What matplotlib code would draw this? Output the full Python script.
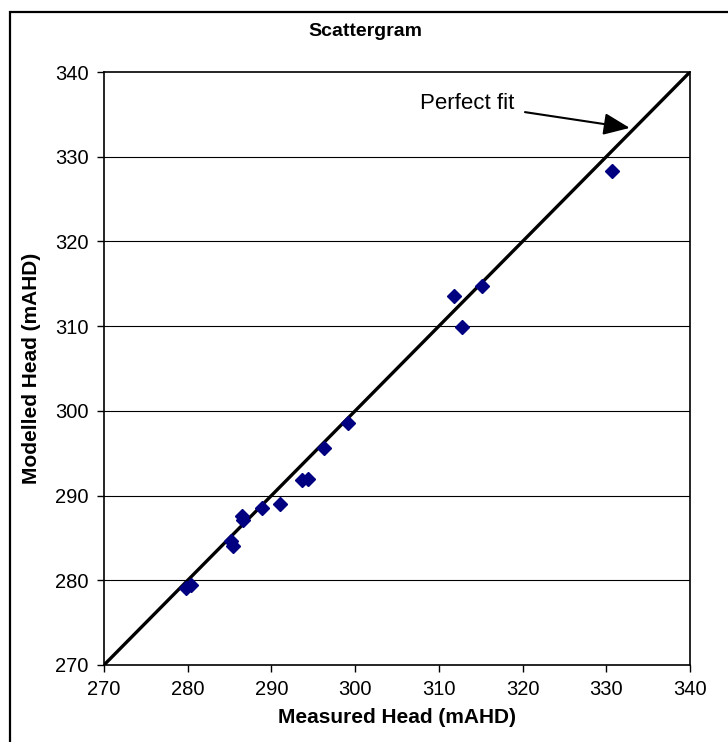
import matplotlib
matplotlib.use("Agg")
import matplotlib.pyplot as plt
from matplotlib.patches import Rectangle

plt.rcParams["font.family"] = ["Liberation Sans", "DejaVu Sans"]

# measured vs modelled heads (mAHD)
measured = [279.8, 280.4, 285.2, 285.4, 286.5, 286.6, 288.9, 291.0,
            293.6, 294.4, 296.3, 299.2, 311.8, 315.2, 312.8, 330.7]
modelled = [279.1, 279.5, 284.6, 284.0, 287.6, 287.1, 288.5, 289.0,
            291.8, 292.0, 295.6, 298.6, 313.5, 314.7, 309.9, 328.3]
lims = [270, 340]
ticks = list(range(270, 341, 10))

fig = plt.figure(figsize=(7.28, 7.42), dpi=100)
ax = fig.add_axes([104 / 728, 1 - 665 / 742, 586 / 728, 593 / 742])

# outer chart frame (cut off at right and bottom like the reference)
fig.patches.append(Rectangle((10 / 728, -0.1), 1.2, 1 - 12 / 742 + 0.1,
                             transform=fig.transFigure, fill=False,
                             edgecolor="black", lw=1.6))

for t in ticks[1:-1]:
    ax.axhline(t, color="black", lw=0.8, zorder=1)

ax.plot(lims, lims, color="black", lw=2.4, zorder=2)
ax.plot(measured, modelled, "D", color="#000080", ms=7.3, zorder=3,
        linestyle="none")

ax.set_xlim(lims)
ax.set_ylim(lims)
ax.set_xticks(ticks)
ax.set_yticks(ticks)
ax.tick_params(direction="out", length=5, width=1, labelsize=14.5, pad=6)
for s in ax.spines.values():
    s.set_linewidth(1.2)

ax.annotate("Perfect fit", xy=(332.8, 333.4), xytext=(307.7, 336.3),
            fontsize=16, va="center", ha="left",
            arrowprops=dict(arrowstyle="-|>,head_length=1.0,head_width=0.42",
                            color="black", lw=1.5, shrinkA=6, shrinkB=0))

fig.text(365 / 728, 1 - 32 / 742, "Scattergram", ha="center", va="center",
         fontsize=14, fontweight="bold")
ax.set_xlabel("Measured Head (mAHD)", fontsize=15, fontweight="bold",
              labelpad=6)
ax.set_ylabel("Modelled Head (mAHD)", fontsize=15, fontweight="bold",
              labelpad=10)

fig.savefig("out.png", dpi=100)
